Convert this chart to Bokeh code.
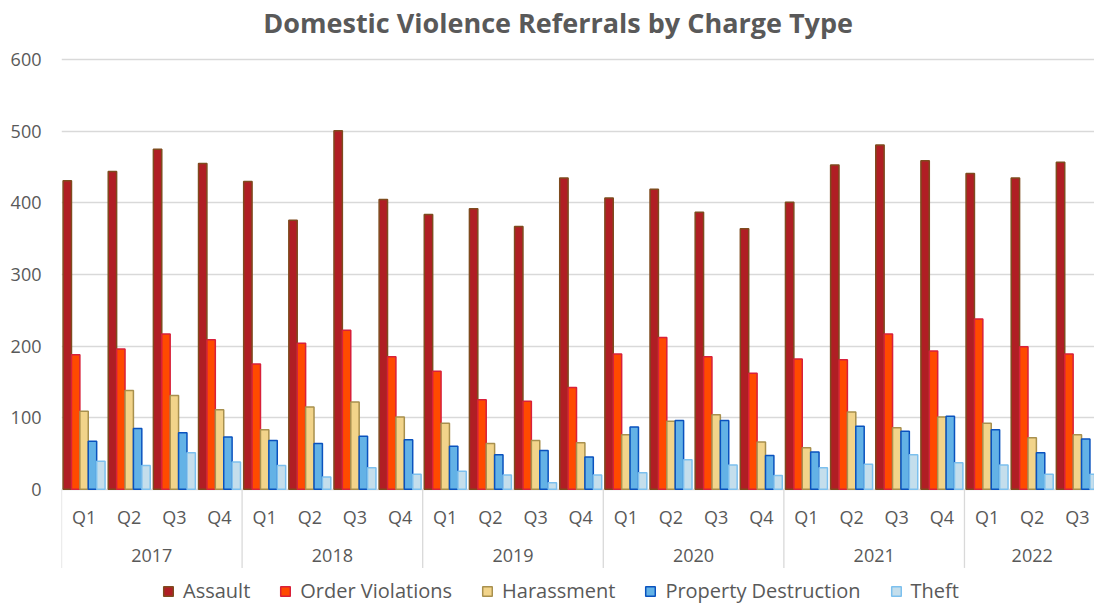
from bokeh.plotting import figure
from bokeh.models import (Range1d, FixedTicker, Legend, LegendItem, ColumnDataSource, Label)
from bokeh.core.properties import value
from bokeh.transform import dodge
from bokeh.embed import file_html
from bokeh.resources import INLINE

# ---------------- data ----------------
title_text = "Domestic Violence Referrals by Charge Type"
years = ["2017", "2018", "2019", "2020", "2021", "2022"]
quarters_per_year = [4, 4, 4, 4, 4, 3]
quarter_labels = ["Q1", "Q2", "Q3", "Q4"] * 5 + ["Q1", "Q2", "Q3"]

assault = [431, 444, 475, 455, 430, 376, 501, 405, 384, 392, 367, 435,
           407, 419, 387, 364, 401, 453, 481, 459, 441, 435, 457]
order_violations = [188, 196, 217, 209, 175, 204, 222, 185, 165, 125, 123, 142,
                    189, 212, 185, 162, 182, 181, 217, 193, 238, 199, 189]
harassment = [109, 138, 131, 111, 83, 115, 122, 101, 92, 64, 68, 65,
              76, 95, 104, 66, 58, 108, 86, 101, 92, 72, 76]
property_destruction = [67, 85, 79, 73, 68, 64, 74, 69, 60, 48, 54, 45,
                        87, 96, 96, 47, 52, 88, 81, 102, 83, 51, 70]
theft = [39, 33, 51, 38, 33, 17, 30, 21, 25, 20, 9, 20,
         23, 41, 34, 19, 30, 35, 48, 37, 34, 21, 21]

y_ticks = [0, 100, 200, 300, 400, 500, 600]

series_names = ["Assault", "Order Violations", "Harassment",
                "Property Destruction", "Theft"]
fill_colors = ["#B01E24", "#FF4A00", "#F2D48A", "#63B2E6", "#C4DEEC"]
line_colors = ["#7E4B1E", "#D8203A", "#A8904E", "#0A52BE", "#7CC0EE"]

# ---------------- category positions ----------------
n = len(assault)
xpos = [i + 0.5 for i in range(n)]
year_starts = []
acc = 0
for q in quarters_per_year:
    year_starts.append(acc)
    acc += q
year_centers = [s + q / 2 for s, q in zip(year_starts, quarters_per_year)]

src = ColumnDataSource(dict(x=xpos, a=assault, ov=order_violations, h=harassment,
                            pd=property_destruction, t=theft))
cols = ["a", "ov", "h", "pd", "t"]

FONT = "Open Sans"
GREY = "#595959"

# layout constants: the frame spans the full height; the band below zero holds
# the category labels, the band above 600 holds the title
Y_MIN, Y_MAX = -162.5, 682.9
TITLE_Y = 652.8
TITLE_X = 11.0
Q_LABEL_Y = -38.8
YEAR_LABEL_Y = -92.6
SEP_BOTTOM = -110.0

p = figure(width=1094, height=605, output_backend="svg", toolbar_location=None,
           x_range=Range1d(0, 22.88), y_range=Range1d(Y_MIN, Y_MAX),
           x_axis_location=None,
           min_border_left=61, min_border_right=0, min_border_top=0,
           min_border_bottom=0, background_fill_color="white",
           border_fill_color="white", outline_line_color=None)

# gridlines & y axis
p.yaxis.ticker = FixedTicker(ticks=y_ticks)
p.yaxis.axis_line_color = None
p.yaxis.major_tick_line_color = None
p.yaxis.minor_tick_line_color = None
p.yaxis.major_label_text_font = FONT
p.yaxis.major_label_text_font_size = "18px"
p.yaxis.major_label_text_color = GREY
p.yaxis.major_label_standoff = 14
p.ygrid.grid_line_color = "#D9D9D9"
p.ygrid.grid_line_width = 1.3
p.ygrid.ticker = FixedTicker(ticks=y_ticks)
p.xgrid.grid_line_color = None

# bars
bw = 0.186
offsets = [-2 * bw, -bw, 0, bw, 2 * bw]
renderers = []
for col, off, fc, lc in zip(cols, offsets, fill_colors, line_colors):
    r = p.vbar(x=dodge("x", off, range=p.x_range), top=col, bottom=0, width=bw,
               source=src, fill_color=fc, line_color=lc, line_width=1.5)
    renderers.append(r)

# year separators
p.segment(x0=year_starts, y0=[0] * len(year_starts), x1=year_starts,
          y1=[SEP_BOTTOM] * len(year_starts), line_color="#D9D9D9", line_width=1.3)

# category labels
p.text(x=xpos, y=[Q_LABEL_Y] * n, text=quarter_labels, text_align="center",
       text_baseline="middle", text_font=value(FONT), text_font_size="18px",
       text_color=GREY)
p.text(x=year_centers, y=[YEAR_LABEL_Y] * len(years), text=years,
       text_align="center", text_baseline="middle", text_font=value(FONT),
       text_font_size="18px", text_color=GREY)

# title
p.add_layout(Label(x=TITLE_X, y=TITLE_Y, text=title_text, text_align="center",
                   text_baseline="middle", text_font=FONT, text_font_style="bold",
                   text_font_size="27px", text_color=GREY))

items = [LegendItem(label=nm, renderers=[r]) for nm, r in zip(series_names, renderers)]
legend = Legend(items=items, orientation="horizontal", location=(101, 1),
                label_text_font=FONT, label_text_font_size="20px",
                label_text_color=GREY, glyph_width=12, glyph_height=12,
                label_standoff=9, spacing=29, padding=0, margin=0,
                border_line_color=None, background_fill_alpha=0,
                label_height=14)
p.add_layout(legend, "center")

open("out.html", "w").write(file_html(p, INLINE))
